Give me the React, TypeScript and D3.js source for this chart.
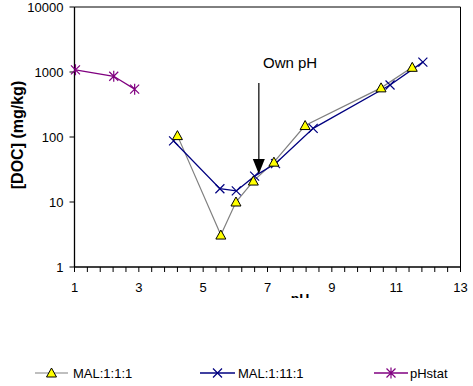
import React from "react";
import * as d3 from "d3";

const seriesNames = ["MAL:1:1:1", "MAL:1:11:1", "pHstat"];
const mal111pH = [4.2, 5.55, 6.02, 6.56, 7.2, 8.17, 10.53, 11.5];
const mal111DOC = [105, 3.1, 10, 21, 41, 150, 570, 1180];
const mal1111pH = [4.08, 5.52, 6.03, 6.6, 7.25, 8.42, 10.81, 11.83];
const mal1111DOC = [87, 16, 14.8, 25, 39, 136, 630, 1420];
const pHstatPH = [1.03, 2.22, 2.87];
const pHstatDOC = [1080, 860, 545];
const xTickLabels = [1, 3, 5, 7, 9, 11, 13];
const yTickLabels = [1, 10, 100, 1000, 10000];
const ownPH = 6.73;

const W = 473, H = 386;
const font = "'Liberation Sans', Arial, sans-serif";

function Triangle({ x, y }: { x: number; y: number }) {
  return (
    <path
      d={`M${x},${y - 5} L${x + 5},${y + 4} L${x - 5},${y + 4} Z`}
      fill="#FFFF00"
      stroke="#000"
      strokeWidth={1}
    />
  );
}
function XMark({ x, y, c }: { x: number; y: number; c: string }) {
  const s = 4.5;
  return (
    <path d={`M${x - s},${y - s} L${x + s},${y + s} M${x - s},${y + s} L${x + s},${y - s}`} stroke={c} strokeWidth={1.2} />
  );
}
function Star({ x, y, c }: { x: number; y: number; c: string }) {
  const s = 4.5;
  return (
    <path
      d={`M${x - s},${y - s} L${x + s},${y + s} M${x - s},${y + s} L${x + s},${y - s} M${x},${y - s - 1} L${x},${y + s + 1}`}
      stroke={c}
      strokeWidth={1.2}
    />
  );
}

export default function App() {
  const x = d3.scaleLinear().domain([1, 13]).range([74.5, 460.5]);
  const y = d3.scaleLog().domain([1, 10000]).range([267, 7]);
  const line = d3
    .line<[number, number]>()
    .x((d) => x(d[0]))
    .y((d) => y(d[1]));
  const s1 = mal111pH.map((p, i) => [p, mal111DOC[i]] as [number, number]);
  const s2 = mal1111pH.map((p, i) => [p, mal1111DOC[i]] as [number, number]);
  const s3 = pHstatPH.map((p, i) => [p, pHstatDOC[i]] as [number, number]);
  const minorX = d3.range(0, 31).map((i) => 1 + i * 0.4);
  const [x0, x1] = x.range();
  const [yb, yt] = y.range();
  const ax = x(ownPH);

  return (
    <svg width={W} height={H} style={{ position: "absolute", left: 0, top: 0, background: "#fff" }} fontFamily={font}>
      <defs>
        <clipPath id="phclip">
          <rect x={0} y={0} width={W} height={298} />
        </clipPath>
      </defs>
      {/* frame */}
      <line x1={x0} x2={x1} y1={yt} y2={yt} stroke="#000" strokeWidth={1} />
      <line x1={x1} x2={x1} y1={yt} y2={yb} stroke="#000" strokeWidth={1} />
      <line x1={x0} x2={x0} y1={yt} y2={yb} stroke="#000" strokeWidth={1.3} />
      <line x1={x0} x2={x1} y1={yb} y2={yb} stroke="#000" strokeWidth={1.3} />
      {/* y ticks */}
      {yTickLabels.map((v) => (
        <g key={v}>
          <line x1={x0 - 5} x2={x0} y1={y(v)} y2={y(v)} stroke="#000" />
          <text x={x0 - 11} y={y(v)} dy="0.36em" textAnchor="end" fontSize={13}>
            {v}
          </text>
        </g>
      ))}
      {/* x ticks */}
      {minorX.map((v, i) => (
        <line key={i} x1={x(v)} x2={x(v)} y1={yb} y2={yb + 5} stroke="#000" />
      ))}
      {xTickLabels.map((v) => (
        <text key={v} x={x(v)} y={292} textAnchor="middle" fontSize={13}>
          {v}
        </text>
      ))}
      <text x={300} y={304} textAnchor="middle" fontSize={14} fontWeight="bold" clipPath="url(#phclip)">
        pH
      </text>
      <text
        transform={`translate(23,135) rotate(-90)`}
        textAnchor="middle"
        fontSize={16}
        fontWeight="bold"
      >
        [DOC] (mg/kg)
      </text>
      {/* series */}
      <path d={line(s1) || ""} fill="none" stroke="#808080" strokeWidth={1.2} />
      <path d={line(s2) || ""} fill="none" stroke="#000080" strokeWidth={1.3} />
      <path d={line(s3) || ""} fill="none" stroke="#800080" strokeWidth={1.3} />
      {s2.map((d, i) => (
        <XMark key={i} x={x(d[0])} y={y(d[1])} c="#000080" />
      ))}
      {s1.map((d, i) => (
        <Triangle key={i} x={x(d[0])} y={y(d[1])} />
      ))}
      {s3.map((d, i) => (
        <Star key={i} x={x(d[0])} y={y(d[1])} c="#800080" />
      ))}
      {/* annotation */}
      <text x={263} y={67.5} fontSize={15}>
        Own pH
      </text>
      <line x1={ax} x2={ax} y1={83} y2={160} stroke="#333" strokeWidth={1.5} />
      <path d={`M${ax - 6},${159} L${ax + 6},${159} L${ax},${174} Z`} fill="#000" />
      {/* legend */}
      <g fontSize={13}>
        <line x1={35} x2={68} y1={373} y2={373} stroke="#808080" strokeWidth={1.2} />
        <Triangle x={51.5} y={373} />
        <text x={73} y={373} dy="0.36em">{seriesNames[0]}</text>
        <line x1={200} x2={235} y1={373} y2={373} stroke="#000080" strokeWidth={1.3} />
        <XMark x={217.5} y={373} c="#000080" />
        <text x={238} y={373} dy="0.36em">{seriesNames[1]}</text>
        <line x1={374} x2={408} y1={373} y2={373} stroke="#800080" strokeWidth={1.3} />
        <Star x={391} y={373} c="#800080" />
        <text x={410} y={373} dy="0.36em">{seriesNames[2]}</text>
      </g>
    </svg>
  );
}
